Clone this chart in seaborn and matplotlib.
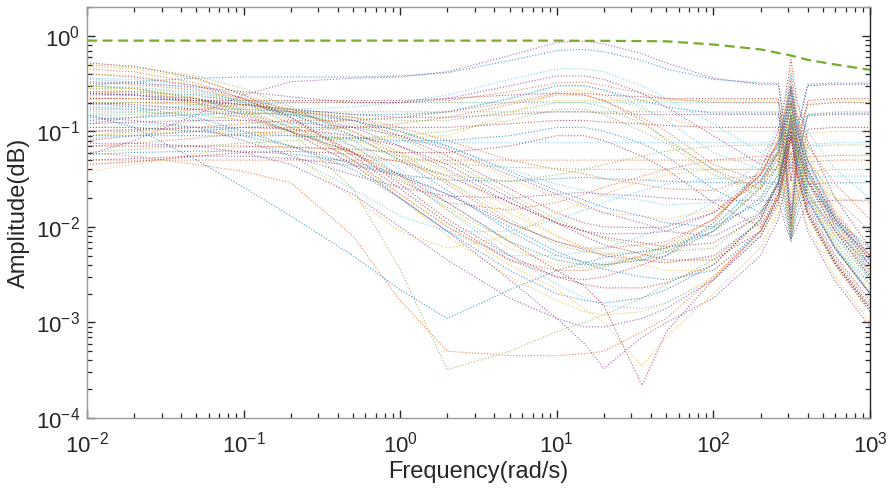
import matplotlib
matplotlib.use("Agg")
import matplotlib.pyplot as plt
import numpy as np
import pandas as pd
import seaborn as sns

# Frequency grid shared by all response curves (rad/s)
freq = [0.01, 0.02, 0.05, 0.1, 0.2, 0.5, 1, 2, 5, 10, 15, 20, 35, 50,
        100, 200, 260, 290, 313, 340, 400, 600, 1000]

# Weighting bound (dashed green)
bound = [0.89, 0.89, 0.89, 0.89, 0.89, 0.89, 0.89, 0.89, 0.89, 0.89, 0.885,
         0.885, 0.88, 0.875, 0.81, 0.72, 0.66, 0.64, 0.62, 0.6, 0.56, 0.5, 0.44]

# Responses that stay flat and show an anti-resonance near 313 rad/s
notch_curves = [
    [0.30, 0.33, 0.36, 0.37, 0.37, 0.37, 0.38, 0.41, 0.55, 0.70, 0.72, 0.68, 0.55, 0.45, 0.35, 0.32, 0.32, 0.10, 0.04, 0.10, 0.31, 0.32, 0.32],
    [0.057, 0.08, 0.15, 0.24, 0.33, 0.36, 0.37, 0.42, 0.62, 0.85, 0.88, 0.82, 0.65, 0.52, 0.36, 0.31, 0.31, 0.09, 0.03, 0.09, 0.30, 0.31, 0.31],
    [0.22, 0.22, 0.21, 0.21, 0.21, 0.21, 0.21, 0.22, 0.24, 0.25, 0.25, 0.24, 0.23, 0.22, 0.22, 0.22, 0.22, 0.06, 0.015, 0.06, 0.21, 0.22, 0.22],
    [0.28, 0.26, 0.23, 0.21, 0.205, 0.20, 0.20, 0.20, 0.20, 0.21, 0.21, 0.21, 0.21, 0.21, 0.21, 0.21, 0.21, 0.07, 0.02, 0.07, 0.20, 0.21, 0.21],
    [0.15, 0.16, 0.19, 0.20, 0.20, 0.20, 0.20, 0.20, 0.20, 0.20, 0.20, 0.20, 0.20, 0.20, 0.20, 0.20, 0.20, 0.05, 0.01, 0.05, 0.19, 0.20, 0.20],
    [0.12, 0.14, 0.17, 0.19, 0.20, 0.20, 0.20, 0.21, 0.26, 0.32, 0.33, 0.30, 0.25, 0.22, 0.20, 0.20, 0.20, 0.08, 0.03, 0.08, 0.19, 0.20, 0.20],
    [0.09, 0.10, 0.13, 0.15, 0.16, 0.16, 0.16, 0.16, 0.16, 0.16, 0.16, 0.16, 0.16, 0.16, 0.16, 0.16, 0.16, 0.045, 0.008, 0.045, 0.15, 0.16, 0.16],
    [0.25, 0.24, 0.21, 0.19, 0.17, 0.15, 0.15, 0.16, 0.22, 0.30, 0.30, 0.27, 0.21, 0.18, 0.155, 0.155, 0.155, 0.05, 0.012, 0.05, 0.15, 0.155, 0.155],
    [0.19, 0.20, 0.20, 0.19, 0.17, 0.15, 0.14, 0.14, 0.15, 0.16, 0.16, 0.155, 0.15, 0.15, 0.15, 0.15, 0.15, 0.045, 0.01, 0.045, 0.145, 0.15, 0.15],
    [0.08, 0.09, 0.10, 0.11, 0.11, 0.11, 0.11, 0.11, 0.12, 0.13, 0.13, 0.125, 0.12, 0.115, 0.11, 0.11, 0.11, 0.035, 0.012, 0.035, 0.105, 0.11, 0.11],
    [0.11, 0.11, 0.10, 0.095, 0.09, 0.085, 0.085, 0.09, 0.15, 0.26, 0.27, 0.24, 0.17, 0.14, 0.10, 0.10, 0.10, 0.03, 0.009, 0.03, 0.095, 0.10, 0.10],
    [0.13, 0.12, 0.11, 0.10, 0.09, 0.08, 0.077, 0.076, 0.076, 0.076, 0.076, 0.076, 0.076, 0.076, 0.076, 0.076, 0.075, 0.025, 0.007, 0.025, 0.073, 0.076, 0.076],
    [0.05, 0.05, 0.05, 0.05, 0.05, 0.05, 0.05, 0.05, 0.05, 0.05, 0.05, 0.05, 0.05, 0.05, 0.05, 0.05, 0.05, 0.018, 0.008, 0.018, 0.048, 0.05, 0.05],
    [0.30, 0.28, 0.22, 0.16, 0.11, 0.07, 0.055, 0.046, 0.042, 0.041, 0.04, 0.04, 0.04, 0.04, 0.04, 0.04, 0.04, 0.016, 0.007, 0.016, 0.038, 0.04, 0.04],
    [0.20, 0.18, 0.14, 0.10, 0.07, 0.045, 0.035, 0.031, 0.03, 0.032, 0.033, 0.032, 0.031, 0.03, 0.029, 0.029, 0.029, 0.013, 0.0075, 0.013, 0.028, 0.029, 0.029],
    [0.14, 0.13, 0.11, 0.08, 0.055, 0.035, 0.026, 0.021, 0.02, 0.022, 0.023, 0.022, 0.021, 0.02, 0.019, 0.019, 0.019, 0.01, 0.0075, 0.01, 0.018, 0.019, 0.019],
]

# Responses with a resonant peak near 313 rad/s
peak_curves = [
    [0.52, 0.48, 0.36, 0.24, 0.14, 0.055, 0.025, 0.011, 0.0045, 0.003, 0.0028, 0.003, 0.004, 0.005, 0.011, 0.04, 0.10, 0.25, 0.56, 0.22, 0.08, 0.02, 0.006],
    [0.48, 0.45, 0.35, 0.25, 0.16, 0.07, 0.034, 0.015, 0.006, 0.004, 0.0037, 0.004, 0.005, 0.006, 0.012, 0.035, 0.08, 0.20, 0.45, 0.17, 0.06, 0.015, 0.005],
    [0.36, 0.35, 0.30, 0.24, 0.16, 0.08, 0.04, 0.018, 0.007, 0.0045, 0.004, 0.0042, 0.0048, 0.0055, 0.01, 0.03, 0.07, 0.17, 0.38, 0.15, 0.05, 0.012, 0.004],
    [0.32, 0.31, 0.27, 0.22, 0.17, 0.10, 0.055, 0.028, 0.011, 0.007, 0.006, 0.006, 0.0065, 0.007, 0.012, 0.035, 0.08, 0.18, 0.35, 0.14, 0.05, 0.013, 0.0045],
    [0.28, 0.28, 0.25, 0.21, 0.16, 0.10, 0.06, 0.03, 0.012, 0.0065, 0.0055, 0.0052, 0.0055, 0.006, 0.01, 0.028, 0.065, 0.15, 0.30, 0.12, 0.042, 0.011, 0.0035],
    [0.26, 0.26, 0.24, 0.20, 0.15, 0.09, 0.05, 0.024, 0.009, 0.005, 0.0043, 0.004, 0.0045, 0.005, 0.009, 0.026, 0.06, 0.14, 0.27, 0.11, 0.038, 0.01, 0.0032],
    [0.24, 0.24, 0.22, 0.19, 0.16, 0.11, 0.07, 0.04, 0.018, 0.011, 0.009, 0.0085, 0.0085, 0.009, 0.014, 0.035, 0.075, 0.16, 0.30, 0.13, 0.05, 0.014, 0.005],
    [0.22, 0.22, 0.21, 0.19, 0.17, 0.13, 0.09, 0.055, 0.025, 0.014, 0.011, 0.01, 0.0098, 0.01, 0.014, 0.03, 0.06, 0.13, 0.25, 0.10, 0.04, 0.012, 0.0045],
    [0.20, 0.20, 0.20, 0.19, 0.17, 0.14, 0.10, 0.065, 0.032, 0.02, 0.016, 0.014, 0.013, 0.012, 0.015, 0.03, 0.06, 0.12, 0.22, 0.09, 0.035, 0.011, 0.004],
    [0.18, 0.18, 0.18, 0.17, 0.16, 0.13, 0.10, 0.07, 0.04, 0.028, 0.024, 0.021, 0.019, 0.017, 0.018, 0.032, 0.06, 0.12, 0.20, 0.085, 0.035, 0.012, 0.0045],
    [0.17, 0.17, 0.17, 0.17, 0.16, 0.14, 0.11, 0.08, 0.05, 0.04, 0.036, 0.032, 0.028, 0.025, 0.024, 0.036, 0.06, 0.11, 0.18, 0.08, 0.035, 0.013, 0.005],
    [0.145, 0.15, 0.16, 0.16, 0.15, 0.12, 0.085, 0.05, 0.022, 0.012, 0.009, 0.0075, 0.0062, 0.0055, 0.006, 0.014, 0.03, 0.07, 0.14, 0.06, 0.022, 0.006, 0.002],
    [0.13, 0.14, 0.15, 0.155, 0.15, 0.13, 0.10, 0.07, 0.038, 0.024, 0.019, 0.016, 0.013, 0.011, 0.01, 0.018, 0.035, 0.075, 0.15, 0.065, 0.025, 0.008, 0.0028],
    [0.12, 0.125, 0.13, 0.13, 0.125, 0.11, 0.09, 0.065, 0.035, 0.022, 0.017, 0.014, 0.011, 0.009, 0.008, 0.014, 0.028, 0.06, 0.12, 0.05, 0.019, 0.006, 0.002],
    [0.10, 0.105, 0.11, 0.11, 0.105, 0.09, 0.07, 0.045, 0.02, 0.011, 0.008, 0.0065, 0.0052, 0.0045, 0.0045, 0.009, 0.02, 0.045, 0.09, 0.038, 0.014, 0.0042, 0.0014],
    [0.09, 0.095, 0.10, 0.10, 0.095, 0.08, 0.06, 0.038, 0.016, 0.008, 0.006, 0.005, 0.004, 0.0035, 0.0035, 0.008, 0.017, 0.04, 0.085, 0.035, 0.013, 0.004, 0.0013],
    [0.085, 0.09, 0.10, 0.11, 0.12, 0.13, 0.14, 0.16, 0.22, 0.30, 0.30, 0.27, 0.18, 0.13, 0.06, 0.04, 0.06, 0.12, 0.22, 0.09, 0.035, 0.011, 0.004],
    [0.07, 0.075, 0.085, 0.095, 0.10, 0.11, 0.12, 0.14, 0.19, 0.24, 0.24, 0.21, 0.14, 0.10, 0.045, 0.03, 0.05, 0.10, 0.20, 0.085, 0.032, 0.01, 0.0035],
    [0.06, 0.065, 0.07, 0.075, 0.08, 0.085, 0.09, 0.10, 0.13, 0.17, 0.17, 0.15, 0.10, 0.075, 0.035, 0.025, 0.045, 0.09, 0.18, 0.075, 0.028, 0.009, 0.003],
    [0.057, 0.06, 0.062, 0.062, 0.058, 0.048, 0.036, 0.022, 0.01, 0.0055, 0.0042, 0.0036, 0.003, 0.0028, 0.0035, 0.009, 0.02, 0.045, 0.09, 0.038, 0.014, 0.0042, 0.0014],
    [0.05, 0.052, 0.055, 0.055, 0.052, 0.044, 0.034, 0.022, 0.011, 0.007, 0.0058, 0.005, 0.0045, 0.0042, 0.005, 0.011, 0.025, 0.055, 0.11, 0.045, 0.017, 0.005, 0.0017],
    [0.045, 0.048, 0.055, 0.06, 0.062, 0.058, 0.048, 0.034, 0.018, 0.011, 0.009, 0.0078, 0.0068, 0.0062, 0.0068, 0.013, 0.028, 0.06, 0.12, 0.05, 0.019, 0.0058, 0.002],
    [0.038, 0.045, 0.058, 0.068, 0.07, 0.062, 0.048, 0.03, 0.014, 0.008, 0.0062, 0.0053, 0.0046, 0.0042, 0.0048, 0.01, 0.022, 0.048, 0.10, 0.042, 0.016, 0.0048, 0.0016],
]

# Resonant responses with slower high-frequency roll-off
tail_curves = [
    [0.35, 0.33, 0.28, 0.20, 0.12, 0.05, 0.02, 0.009, 0.005, 0.005, 0.0055, 0.006, 0.008, 0.01, 0.018, 0.05, 0.11, 0.22, 0.40, 0.20, 0.10, 0.04, 0.02],
    [0.26, 0.25, 0.22, 0.17, 0.11, 0.05, 0.022, 0.01, 0.0045, 0.0035, 0.0035, 0.0038, 0.005, 0.0065, 0.012, 0.035, 0.08, 0.17, 0.30, 0.15, 0.07, 0.028, 0.012],
    [0.16, 0.16, 0.15, 0.13, 0.10, 0.06, 0.032, 0.016, 0.007, 0.0045, 0.004, 0.004, 0.0045, 0.0055, 0.009, 0.025, 0.055, 0.12, 0.22, 0.11, 0.05, 0.02, 0.009],
    [0.11, 0.11, 0.10, 0.09, 0.07, 0.04, 0.02, 0.009, 0.0035, 0.002, 0.0017, 0.0016, 0.0018, 0.0022, 0.004, 0.012, 0.028, 0.065, 0.13, 0.065, 0.03, 0.012, 0.006],
    [0.075, 0.075, 0.07, 0.06, 0.045, 0.022, 0.01, 0.0045, 0.0018, 0.0011, 0.0009, 0.0009, 0.0011, 0.0014, 0.0028, 0.009, 0.022, 0.05, 0.10, 0.05, 0.022, 0.009, 0.004],
    [0.40, 0.37, 0.30, 0.22, 0.14, 0.06, 0.028, 0.012, 0.005, 0.003, 0.0025, 0.0023, 0.0023, 0.0026, 0.004, 0.012, 0.03, 0.07, 0.15, 0.07, 0.03, 0.011, 0.005],
    [0.23, 0.22, 0.19, 0.15, 0.10, 0.045, 0.02, 0.008, 0.003, 0.0017, 0.0013, 0.0012, 0.0013, 0.0016, 0.003, 0.009, 0.022, 0.05, 0.11, 0.05, 0.022, 0.008, 0.0035],
    [0.30, 0.29, 0.26, 0.21, 0.14, 0.07, 0.035, 0.015, 0.005, 0.0025, 0.0018, 0.0015, 0.0014, 0.0016, 0.0028, 0.008, 0.02, 0.045, 0.10, 0.045, 0.018, 0.006, 0.0025],
]

# Deep valleys between 2 and 35 rad/s before the resonance
valley_curves = [
    [0.06, 0.055, 0.045, 0.038, 0.029, 0.008, 0.0017, 0.0005, 0.00045, 0.00045, 0.00047, 0.0005, 0.0008, 0.0011, 0.003, 0.009, 0.02, 0.045, 0.09, 0.038, 0.014, 0.0042, 0.0014],
    [0.30, 0.28, 0.22, 0.16, 0.10, 0.025, 0.0036, 0.00032, 0.0005, 0.0008, 0.001, 0.0012, 0.0018, 0.0025, 0.0045, 0.012, 0.03, 0.07, 0.15, 0.06, 0.022, 0.0065, 0.0021],
    [0.15, 0.11, 0.05, 0.026, 0.013, 0.005, 0.0022, 0.0011, 0.0022, 0.0035, 0.0042, 0.0048, 0.0055, 0.006, 0.009, 0.02, 0.045, 0.10, 0.20, 0.085, 0.03, 0.009, 0.003],
    [0.25, 0.24, 0.20, 0.15, 0.10, 0.045, 0.02, 0.009, 0.0028, 0.0011, 0.0006, 0.00033, 0.0007, 0.001, 0.0018, 0.005, 0.012, 0.028, 0.06, 0.025, 0.009, 0.0027, 0.0009],
    [0.20, 0.19, 0.17, 0.14, 0.10, 0.06, 0.035, 0.018, 0.007, 0.0035, 0.0024, 0.0015, 0.00022, 0.0008, 0.0028, 0.008, 0.018, 0.04, 0.085, 0.035, 0.013, 0.004, 0.0013],
    [0.40, 0.38, 0.30, 0.20, 0.12, 0.05, 0.022, 0.01, 0.004, 0.0022, 0.0014, 0.001, 0.00035, 0.0007, 0.002, 0.006, 0.014, 0.03, 0.065, 0.027, 0.01, 0.003, 0.001],
]

# Mid-band bump around 12 rad/s, then roll-off into the resonance
bump_curves = [
    [0.14, 0.14, 0.15, 0.16, 0.17, 0.18, 0.20, 0.24, 0.35, 0.45, 0.45, 0.42, 0.30, 0.22, 0.12, 0.06, 0.08, 0.15, 0.30, 0.12, 0.045, 0.013, 0.0045],
    [0.10, 0.10, 0.11, 0.12, 0.13, 0.13, 0.14, 0.16, 0.20, 0.25, 0.24, 0.21, 0.13, 0.08, 0.04, 0.025, 0.045, 0.10, 0.20, 0.08, 0.03, 0.009, 0.003],
    [0.20, 0.20, 0.19, 0.18, 0.16, 0.14, 0.13, 0.13, 0.16, 0.20, 0.20, 0.18, 0.12, 0.085, 0.04, 0.02, 0.035, 0.08, 0.16, 0.065, 0.024, 0.007, 0.0025],
    [0.09, 0.09, 0.09, 0.09, 0.09, 0.085, 0.08, 0.08, 0.09, 0.11, 0.11, 0.10, 0.075, 0.055, 0.025, 0.014, 0.03, 0.07, 0.14, 0.055, 0.02, 0.006, 0.002],
    [0.33, 0.32, 0.29, 0.26, 0.23, 0.20, 0.20, 0.22, 0.30, 0.38, 0.38, 0.35, 0.25, 0.18, 0.09, 0.045, 0.07, 0.14, 0.28, 0.11, 0.04, 0.012, 0.004],
    [0.07, 0.07, 0.07, 0.07, 0.068, 0.065, 0.06, 0.06, 0.07, 0.09, 0.09, 0.08, 0.055, 0.04, 0.018, 0.01, 0.022, 0.05, 0.10, 0.04, 0.015, 0.0045, 0.0015],
]

# Falling at low frequency, recovering to a plateau at high frequency
recover_curves = [
    [0.30, 0.28, 0.20, 0.12, 0.06, 0.02, 0.009, 0.006, 0.008, 0.014, 0.018, 0.022, 0.03, 0.035, 0.04, 0.04, 0.04, 0.07, 0.14, 0.06, 0.03, 0.02, 0.018],
    [0.18, 0.17, 0.13, 0.09, 0.055, 0.025, 0.013, 0.009, 0.009, 0.012, 0.015, 0.018, 0.024, 0.028, 0.032, 0.034, 0.035, 0.016, 0.008, 0.016, 0.033, 0.034, 0.034],
    [0.45, 0.42, 0.32, 0.22, 0.13, 0.06, 0.03, 0.018, 0.015, 0.018, 0.022, 0.026, 0.034, 0.04, 0.05, 0.055, 0.056, 0.02, 0.009, 0.02, 0.054, 0.056, 0.056],
    [0.50, 0.47, 0.38, 0.28, 0.18, 0.09, 0.05, 0.035, 0.03, 0.035, 0.04, 0.045, 0.055, 0.062, 0.07, 0.072, 0.072, 0.025, 0.01, 0.025, 0.07, 0.072, 0.072],
]

matlab_colors = ["#0072BD", "#D95319", "#EDB120", "#7E2F8E",
                 "#77AC30", "#4DBEEE", "#A2142F"]

sns.set_theme(style="ticks", rc={
    "xtick.direction": "in", "ytick.direction": "in",
    "xtick.bottom": True, "xtick.top": True,
    "ytick.left": True, "ytick.right": True,
    "xtick.major.size": 6.0, "ytick.major.size": 6.0,
    "xtick.minor.size": 3.8, "ytick.minor.size": 3.8,
    "xtick.major.width": 1.0, "ytick.major.width": 1.0,
    "xtick.minor.width": 0.9, "ytick.minor.width": 0.9,
    "xtick.minor.visible": True, "ytick.minor.visible": True,
    "xtick.color": "#262626", "ytick.color": "#262626",
})
plt.rcParams["font.family"] = ["Liberation Sans", "DejaVu Sans"]
plt.rcParams["mathtext.fontset"] = "custom"
plt.rcParams["mathtext.rm"] = "Liberation Sans"
plt.rcParams["mathtext.it"] = "Liberation Sans"
plt.rcParams["mathtext.default"] = "regular"

all_curves = (notch_curves + peak_curves + tail_curves + valley_curves
              + bump_curves + recover_curves)
rows = []
for k, amps in enumerate(all_curves):
    for f, a in zip(freq, amps):
        rows.append({"freq": f, "amp": a, "curve": f"c{k:02d}"})
df = pd.DataFrame(rows)
names = [f"c{k:02d}" for k in range(len(all_curves))]
palette = {n: matlab_colors[(k * 3) % 7] for k, n in enumerate(names)}

fig = plt.figure(figsize=(8.91, 4.90), dpi=100)
ax = fig.add_axes([0.0976, 0.1469, 0.8788, 0.8388])
ax.set_xscale("log")
ax.set_yscale("log")

sns.lineplot(data=df, x="freq", y="amp", hue="curve", hue_order=names,
             palette=palette, legend=False, estimator=None, sort=False,
             linestyle=":", linewidth=0.8, alpha=0.7, ax=ax)

bdf = pd.DataFrame({"freq": freq, "amp": bound})
sns.lineplot(data=bdf, x="freq", y="amp", color="#77AC30", linewidth=1.6,
             ax=ax, legend=False)
ax.lines[-1].set_linestyle((0, (4.5, 2.5)))

ax.set_xlim(1e-2, 1e3)
ax.set_ylim(1e-4, 2.0)

ax.set_xticks([1e-2, 1e-1, 1e0, 1e1, 1e2, 1e3])
ax.set_xticklabels([r"$10^{-2}$", r"$10^{-1}$", r"$10^{0}$", r"$10^{1}$",
                    r"$10^{2}$", r"$10^{3}$"])
ax.set_yticks([1e-4, 1e-3, 1e-2, 1e-1, 1e0])
ax.set_yticklabels([r"$10^{-4}$", r"$10^{-3}$", r"$10^{-2}$", r"$10^{-1}$",
                    r"$10^{0}$"])
ax.xaxis.set_minor_locator(matplotlib.ticker.LogLocator(base=10, subs=np.arange(2, 10), numticks=20))
ax.yaxis.set_minor_locator(matplotlib.ticker.LogLocator(base=10, subs=np.arange(2, 10), numticks=20))
ax.xaxis.set_minor_formatter(matplotlib.ticker.NullFormatter())
ax.yaxis.set_minor_formatter(matplotlib.ticker.NullFormatter())

ax.tick_params(which="both", direction="in", bottom=True, left=True,
               top=True, right=True, color="#262626", labelcolor="#262626",
               labelsize=16, zorder=5)
ax.tick_params(axis="x", which="major", pad=10)
ax.tick_params(axis="y", which="major", pad=5)

for side in ["left", "bottom", "top"]:
    ax.spines[side].set_visible(True)
    ax.spines[side].set_color("#9a9a9a")
    ax.spines[side].set_linewidth(1.0)
ax.spines["right"].set_visible(True)
ax.spines["right"].set_color("#262626")
ax.spines["right"].set_linewidth(1.0)

ax.set_xlabel("Frequency(rad/s)", fontsize=17, color="#262626", labelpad=2)
ax.set_ylabel("Amplitude(dB)", fontsize=17, color="#262626", labelpad=4)

fig.savefig("out.png", dpi=100)
